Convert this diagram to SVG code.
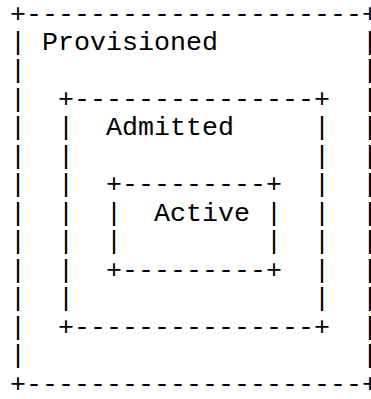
<svg xmlns="http://www.w3.org/2000/svg" width="371" height="399" viewBox="0 0 371 399">
<style>
text{font-family:"Liberation Mono","Courier New",monospace;font-size:26.667px;fill:#000;white-space:pre}
</style>
<rect width="371" height="399" fill="#fff"/>
<g id="provisioned">
<text x="10" y="21.5" xml:space="preserve">+---------------------+</text>
<text x="10" y="391.5" xml:space="preserve">+---------------------+</text>
<text><tspan x="10" y="49.96">|</tspan><tspan x="10" y="78.42">|</tspan><tspan x="10" y="106.88">|</tspan><tspan x="10" y="135.35">|</tspan><tspan x="10" y="163.81">|</tspan><tspan x="10" y="192.27">|</tspan><tspan x="10" y="220.73">|</tspan><tspan x="10" y="249.19">|</tspan><tspan x="10" y="277.65">|</tspan><tspan x="10" y="306.12">|</tspan><tspan x="10" y="334.58">|</tspan><tspan x="10" y="363.04">|</tspan></text>
<text><tspan x="362" y="49.96">|</tspan><tspan x="362" y="78.42">|</tspan><tspan x="362" y="106.88">|</tspan><tspan x="362" y="135.35">|</tspan><tspan x="362" y="163.81">|</tspan><tspan x="362" y="192.27">|</tspan><tspan x="362" y="220.73">|</tspan><tspan x="362" y="249.19">|</tspan><tspan x="362" y="277.65">|</tspan><tspan x="362" y="306.12">|</tspan><tspan x="362" y="334.58">|</tspan><tspan x="362" y="363.04">|</tspan></text>
<text x="42" y="49.96">Provisioned</text>
</g>
<g id="admitted">
<text x="58" y="106.88" xml:space="preserve">+---------------+</text>
<text x="58" y="334.58" xml:space="preserve">+---------------+</text>
<text><tspan x="58" y="135.35">|</tspan><tspan x="58" y="163.81">|</tspan><tspan x="58" y="192.27">|</tspan><tspan x="58" y="220.73">|</tspan><tspan x="58" y="249.19">|</tspan><tspan x="58" y="277.65">|</tspan><tspan x="58" y="306.12">|</tspan></text>
<text><tspan x="314" y="135.35">|</tspan><tspan x="314" y="163.81">|</tspan><tspan x="314" y="192.27">|</tspan><tspan x="314" y="220.73">|</tspan><tspan x="314" y="249.19">|</tspan><tspan x="314" y="277.65">|</tspan><tspan x="314" y="306.12">|</tspan></text>
<text x="106" y="135.35">Admitted</text>
</g>
<g id="active">
<text x="106" y="192.27" xml:space="preserve">+---------+</text>
<text x="106" y="277.65" xml:space="preserve">+---------+</text>
<text><tspan x="106" y="220.73">|</tspan><tspan x="106" y="249.19">|</tspan></text>
<text><tspan x="266" y="220.73">|</tspan><tspan x="266" y="249.19">|</tspan></text>
<text x="154" y="220.73">Active</text>
</g>
</svg>
